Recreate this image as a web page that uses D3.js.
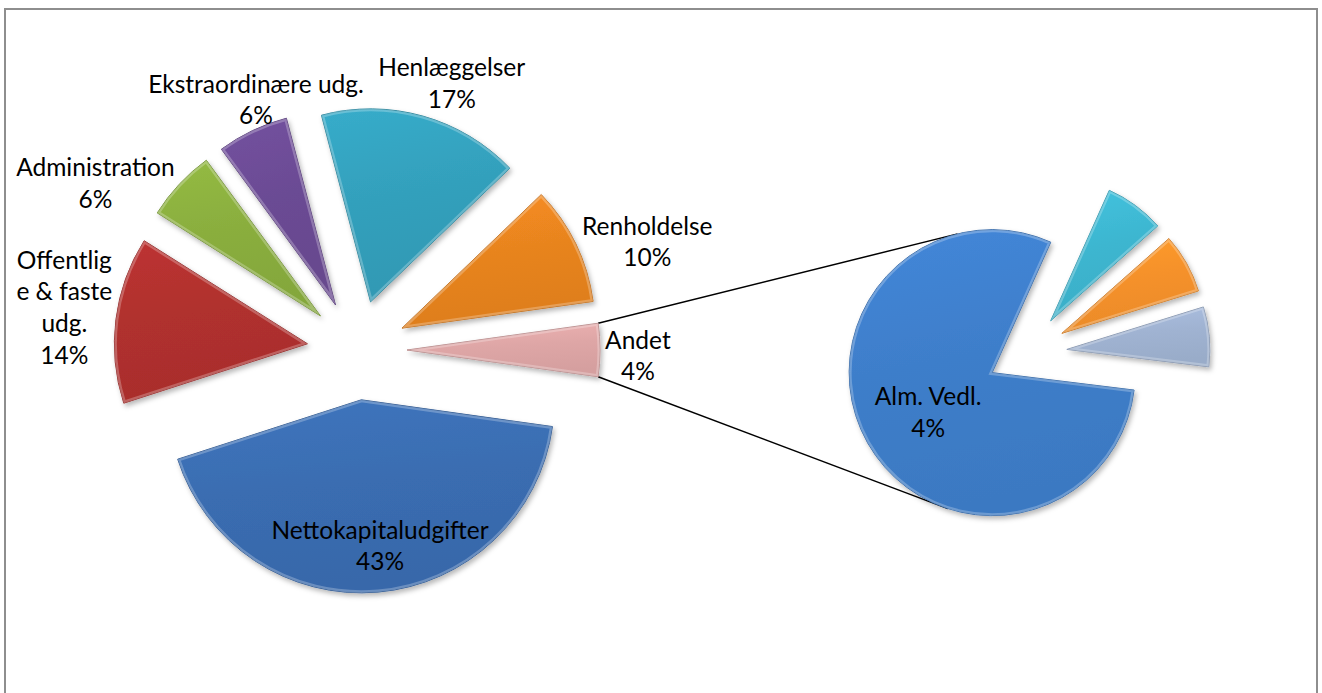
<!DOCTYPE html>
<html>
<head>
<meta charset="utf-8">
<script src="https://cdn.jsdelivr.net/npm/d3@7"></script>
<style>
  body { margin: 0; background: #fff; }
  text { font-family: Lato, "Open Sans", sans-serif; font-size: 24.5px; fill: #000; }
</style>
</head>
<body>
<div id="chart"></div>
<script>
// main pie categories + values (%)
var categories = ["Nettokapitaludgifter", "Offentlige & faste udg.", "Administration",
                  "Ekstraordinære udg.", "Henlæggelser", "Renholdelse"];
var values = [43, 14, 6, 6, 17, 10];

// the "Andet" slice is split out into the second pie
var otherName = "Andet";
var subCategories = ["Alm. Vedl.", "", "", ""];
var subValues = [3.55, 0.3, 0.3, 0.3];

var mainColors = ["#3A6DB1", "#B0302E", "#8AAE3E", "#6B4B94", "#33A0BC", "#E8841F", "#DEA6A6"];
var subColors = ["#3E7ECA", "#3DB6D0", "#F5912A", "#A0B3D2"];

// how Excel wrapped the long label
var wrapped = { "Offentlige & faste udg.": ["Offentlig", "e & faste", "udg."] };

// manual label moves (like dragging labels in Excel)
var labelNudge = {
  "Ekstraordinære udg.": [50, -2],
  "Administration": [-26, 21],
  "Renholdelse": [13, 12],
  "Henlæggelser": [9, -2],
  "Andet": [5, 6],
  "Offentlige & faste udg.": [-4, -4],
  "Alm. Vedl.": [7, 0]
};

var svgWidth = 1322;
var svgHeight = 693;

var mainCenter = { x: 357, y: 350 };
var mainRadius = 193;
var mainExplode = 50;

var subCenter = { x: 1027, y: 353 };
var subRadius = 143;
var subExplode = 40;
var subStart = 97; // degrees, clockwise from 12 o'clock

var lineHeight = 31.6;
var deg = Math.PI / 180;

var svg = d3.select("#chart")
  .append("svg")
  .attr("width", svgWidth)
  .attr("height", svgHeight);

// chart border
svg.append("rect")
  .attr("x", 5).attr("y", 9)
  .attr("width", 1312).attr("height", 700)
  .attr("fill", "#fff")
  .attr("stroke", "#8E8E8E")
  .attr("stroke-width", 2);

var defs = svg.append("defs");

defs.append("filter")
  .attr("id", "shadow")
  .attr("x", "-20%").attr("y", "-20%")
  .attr("width", "140%").attr("height", "140%")
  .append("feDropShadow")
  .attr("dx", 2).attr("dy", 3)
  .attr("stdDeviation", 2.5)
  .attr("flood-color", "#000")
  .attr("flood-opacity", 0.28);

function makeGradient(id, color) {
  var c = d3.color(color);
  var grad = defs.append("linearGradient")
    .attr("id", id)
    .attr("x1", 0).attr("y1", 0)
    .attr("x2", 0.2).attr("y2", 1);
  grad.append("stop").attr("offset", "0%").attr("stop-color", c.brighter(0.2));
  grad.append("stop").attr("offset", "50%").attr("stop-color", c);
  grad.append("stop").attr("offset", "100%").attr("stop-color", c.darker(0.12));
}

var total = d3.sum(values) + d3.sum(subValues);
var otherValue = d3.sum(subValues);
var pct = d3.format(".0%");

var mainData = categories.map(function(c, i) {
  return { name: c, value: values[i], color: mainColors[i] };
});
mainData.push({ name: otherName, value: otherValue, color: mainColors[6] });

// "Andet" is centred at 3 o'clock, pointing at the second pie
var otherSpan = 2 * Math.PI * otherValue / total;
var mainStart = Math.PI / 2 + otherSpan / 2;

var mainPie = d3.pie()
  .sort(null)
  .value(function(d) { return d.value; })
  .startAngle(mainStart)
  .endAngle(mainStart + 2 * Math.PI);

var subData = subCategories.map(function(c, i) {
  return { name: c, value: subValues[i], color: subColors[i] };
});

var subPie = d3.pie()
  .sort(null)
  .value(function(d) { return d.value; })
  .startAngle(subStart * deg)
  .endAngle(subStart * deg + 2 * Math.PI);

var mainArc = d3.arc().innerRadius(0).outerRadius(mainRadius);
var subArc = d3.arc().innerRadius(0).outerRadius(subRadius);

function dir(a) { return [Math.sin(a), -Math.cos(a)]; }
function midAngle(d) { return (d.startAngle + d.endAngle) / 2; }

var mainArcs = mainPie(mainData);
var subArcs = subPie(subData);

// connector lines from Andet to the second pie
var otherArc = mainArcs[mainArcs.length - 1];
var almArc = subArcs[0];
var oMid = dir(midAngle(otherArc));
var oApex = [mainCenter.x + mainExplode * oMid[0], mainCenter.y + mainExplode * oMid[1]];
var aMid = dir(midAngle(almArc));
var aApex = [subCenter.x + subExplode * aMid[0], subCenter.y + subExplode * aMid[1]];
var connectorAngles = [-14, 198];
[otherArc.startAngle, otherArc.endAngle].forEach(function(a, i) {
  var p0 = dir(a);
  var p1 = dir(connectorAngles[i] * deg);
  svg.append("line")
    .attr("x1", oApex[0] + mainRadius * p0[0])
    .attr("y1", oApex[1] + mainRadius * p0[1])
    .attr("x2", aApex[0] + subRadius * p1[0])
    .attr("y2", aApex[1] + subRadius * p1[1])
    .attr("stroke", "#000")
    .attr("stroke-width", 1.5);
});

function drawSlices(arcs, arcGen, center, explode, prefix) {
  var g = svg.append("g");
  arcs.forEach(function(d, i) {
    var m = dir(midAngle(d));
    var tx = center.x + explode * m[0];
    var ty = center.y + explode * m[1];
    var id = prefix + i;
    makeGradient("grad-" + id, d.data.color);
    defs.append("clipPath").attr("id", "clip-" + id)
      .append("path").attr("d", arcGen(d));
    var sg = g.append("g")
      .attr("transform", "translate(" + tx + "," + ty + ")");
    sg.append("path")
      .attr("d", arcGen(d))
      .attr("fill", "url(#grad-" + id + ")")
      .attr("stroke", d3.color(d.data.color).darker(0.5))
      .attr("stroke-width", 1)
      .attr("filter", "url(#shadow)");
    // bevel highlight
    sg.append("path")
      .attr("d", arcGen(d))
      .attr("fill", "none")
      .attr("stroke", "#fff")
      .attr("stroke-opacity", 0.25)
      .attr("stroke-width", 5)
      .attr("clip-path", "url(#clip-" + id + ")");
  });
}

drawSlices(mainArcs, mainArc, mainCenter, mainExplode, "m");
drawSlices(subArcs, subArc, subCenter, subExplode, "s");

function addLabel(lines) {
  var t = svg.append("text").attr("text-anchor", "middle");
  lines.forEach(function(l, i) {
    t.append("tspan").attr("x", 0).attr("dy", i === 0 ? 0 : lineHeight).text(l);
  });
  return t;
}

function positionLabel(t, cx, cy, n) {
  // cx, cy = centre of the text block
  var y0 = cy - (n - 1) * lineHeight / 2 + 8.5;
  t.attr("transform", "translate(" + cx + "," + y0 + ")");
}

mainArcs.forEach(function(d) {
  var name = d.data.name;
  var lines = (wrapped[name] || [name]).concat([pct(d.data.value / total)]);
  var t = addLabel(lines);
  var m = dir(midAngle(d));
  var cx, cy;
  if (name === categories[0]) {
    // inside label on the big slice
    cx = mainCenter.x + (mainExplode + mainRadius * 0.76) * m[0] + 6;
    cy = mainCenter.y + (mainExplode + mainRadius * 0.76) * m[1];
  } else {
    var box = t.node().getBBox();
    var ax = mainCenter.x + (mainExplode + mainRadius) * m[0];
    var ay = mainCenter.y + (mainExplode + mainRadius) * m[1];
    cx = ax + m[0] * box.width / 2;
    cy = ay + m[1] * (lines.length * lineHeight) / 2;
    var nudge = labelNudge[name] || [0, 0];
    cx += nudge[0];
    cy += nudge[1];
  }
  positionLabel(t, cx, cy, lines.length);
});

subArcs.forEach(function(d) {
  if (!d.data.name) return;
  var lines = [d.data.name, pct(d.data.value / total)];
  var t = addLabel(lines);
  var m = dir(midAngle(d));
  var nudge = labelNudge[d.data.name] || [0, 0];
  var cx = subCenter.x + (subExplode + subRadius * 0.57) * m[0] + nudge[0];
  var cy = subCenter.y + (subExplode + subRadius * 0.57) * m[1] + nudge[1];
  positionLabel(t, cx, cy, lines.length);
});
</script>
</body>
</html>
